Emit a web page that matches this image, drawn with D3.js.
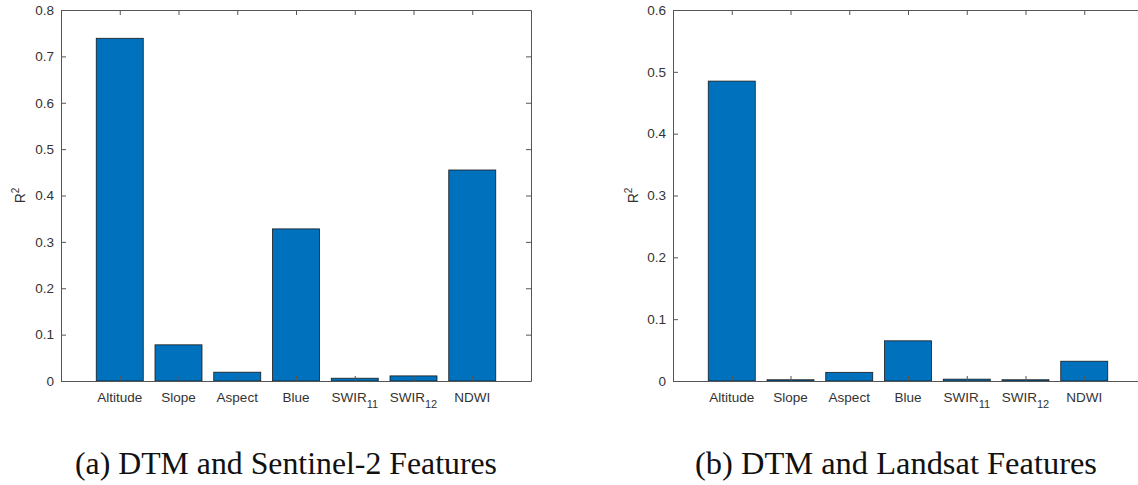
<!DOCTYPE html>
<html>
    <head>
        <script src="https://d3js.org/d3.v7.min.js"></script>
        <style>
            body { margin: 0; background: #fff; }
            .axis text { font-family: "Liberation Sans", Arial, sans-serif; font-size: 13.5px; fill: #333; }
            .axis path, .axis line { stroke: #555; }
            .caption { font-family: "Liberation Serif", "DejaVu Serif", serif; font-size: 31px; fill: #111; }
        </style>
    </head>
    <body>
        <svg width="1138" height="485"></svg>
        <script>
            // categories (label + optional subscript)
            var categories = ["Altitude", "Slope", "Aspect", "Blue", "SWIR", "SWIR", "NDWI"];
            var subscripts = ["", "", "", "", "11", "12", ""];

            // R^2 values
            var sentinelValues = [0.739, 0.078, 0.019, 0.328, 0.006, 0.011, 0.455];
            var landsatValues  = [0.485, 0.002, 0.014, 0.065, 0.003, 0.002, 0.032];

            var sentinelTicks = [0, 0.1, 0.2, 0.3, 0.4, 0.5, 0.6, 0.7, 0.8];
            var landsatTicks  = [0, 0.1, 0.2, 0.3, 0.4, 0.5, 0.6];

            var captions = ["(a) DTM and Sentinel-2 Features", "(b) DTM and Landsat Features"];

            var svg = d3.select("svg");

            function drawPanel(left, values, ticks, caption, capX, capW) {
                var width = 470, top = 10, height = 371;
                var g = svg.append("g").attr("transform", "translate(" + left + "," + top + ")");

                var x = d3.scaleLinear().domain([0, categories.length + 1]).range([0, width]);
                var y = d3.scaleLinear().domain([0, d3.max(ticks)]).range([height, 0]);
                var bw = x(0.8) - x(0);

                // bars
                g.selectAll(".bar")
                    .data(values)
                  .enter().append("rect")
                    .attr("class", "bar")
                    .attr("x", (d, i) => x(i + 1) - bw / 2)
                    .attr("y", d => y(d))
                    .attr("width", bw)
                    .attr("height", d => y(0) - y(d))
                    .attr("fill", "#0072BD")
                    .attr("stroke", "#1a1a1a")
                    .attr("stroke-width", 0.8);

                var idx = d3.range(1, categories.length + 1);
                var fmt = d3.format("~g");

                // left axis
                g.append("g").attr("class", "axis")
                    .call(d3.axisLeft(y).tickValues(ticks).tickFormat(fmt)
                        .tickSizeInner(-5).tickSizeOuter(0).tickPadding(7));
                // right axis (ticks only)
                g.append("g").attr("class", "axis")
                    .attr("transform", "translate(" + width + ",0)")
                    .call(d3.axisRight(y).tickValues(ticks).tickFormat("")
                        .tickSizeInner(-5).tickSizeOuter(0));
                // bottom axis
                g.append("g").attr("class", "axis")
                    .attr("transform", "translate(0," + height + ")")
                    .call(d3.axisBottom(x).tickValues(idx).tickFormat("")
                        .tickSizeInner(-5).tickSizeOuter(0));
                // top axis
                g.append("g").attr("class", "axis")
                    .call(d3.axisTop(x).tickValues(idx).tickFormat("")
                        .tickSizeInner(-5).tickSizeOuter(0));

                // x labels with subscripts
                var lab = g.append("g").attr("class", "axis");
                categories.forEach(function(c, i) {
                    var t = lab.append("text")
                        .attr("x", x(i + 1))
                        .attr("y", height + 21)
                        .attr("text-anchor", "middle")
                        .text(c);
                    if (subscripts[i]) {
                        t.append("tspan")
                            .attr("dy", 5.5)
                            .style("font-size", "11px")
                            .text(subscripts[i]);
                    }
                });

                // y label R^2
                var yl = g.append("text").attr("class", "axis")
                    .attr("transform", "translate(" + (left === 61 ? -36 : -35) + "," + (height / 2) + ") rotate(-90)")
                    .attr("text-anchor", "middle");
                yl.append("tspan").text("R").style("font-family", "Liberation Sans, Arial, sans-serif")
                    .style("font-size", "14px").style("fill", "#333");
                yl.append("tspan").attr("dy", -6).text("2").style("font-family", "Liberation Sans, Arial, sans-serif")
                    .style("font-size", "10px").style("fill", "#333");

                // caption
                svg.append("text").attr("class", "caption")
                    .attr("x", capX).attr("y", 474)
                    .attr("textLength", capW).attr("lengthAdjust", "spacingAndGlyphs")
                    .text(caption);
            }

            drawPanel(61, sentinelValues, sentinelTicks, captions[0], 75, 422);
            drawPanel(673, landsatValues, landsatTicks, captions[1], 695, 402);
        </script>
    </body>
</html>
